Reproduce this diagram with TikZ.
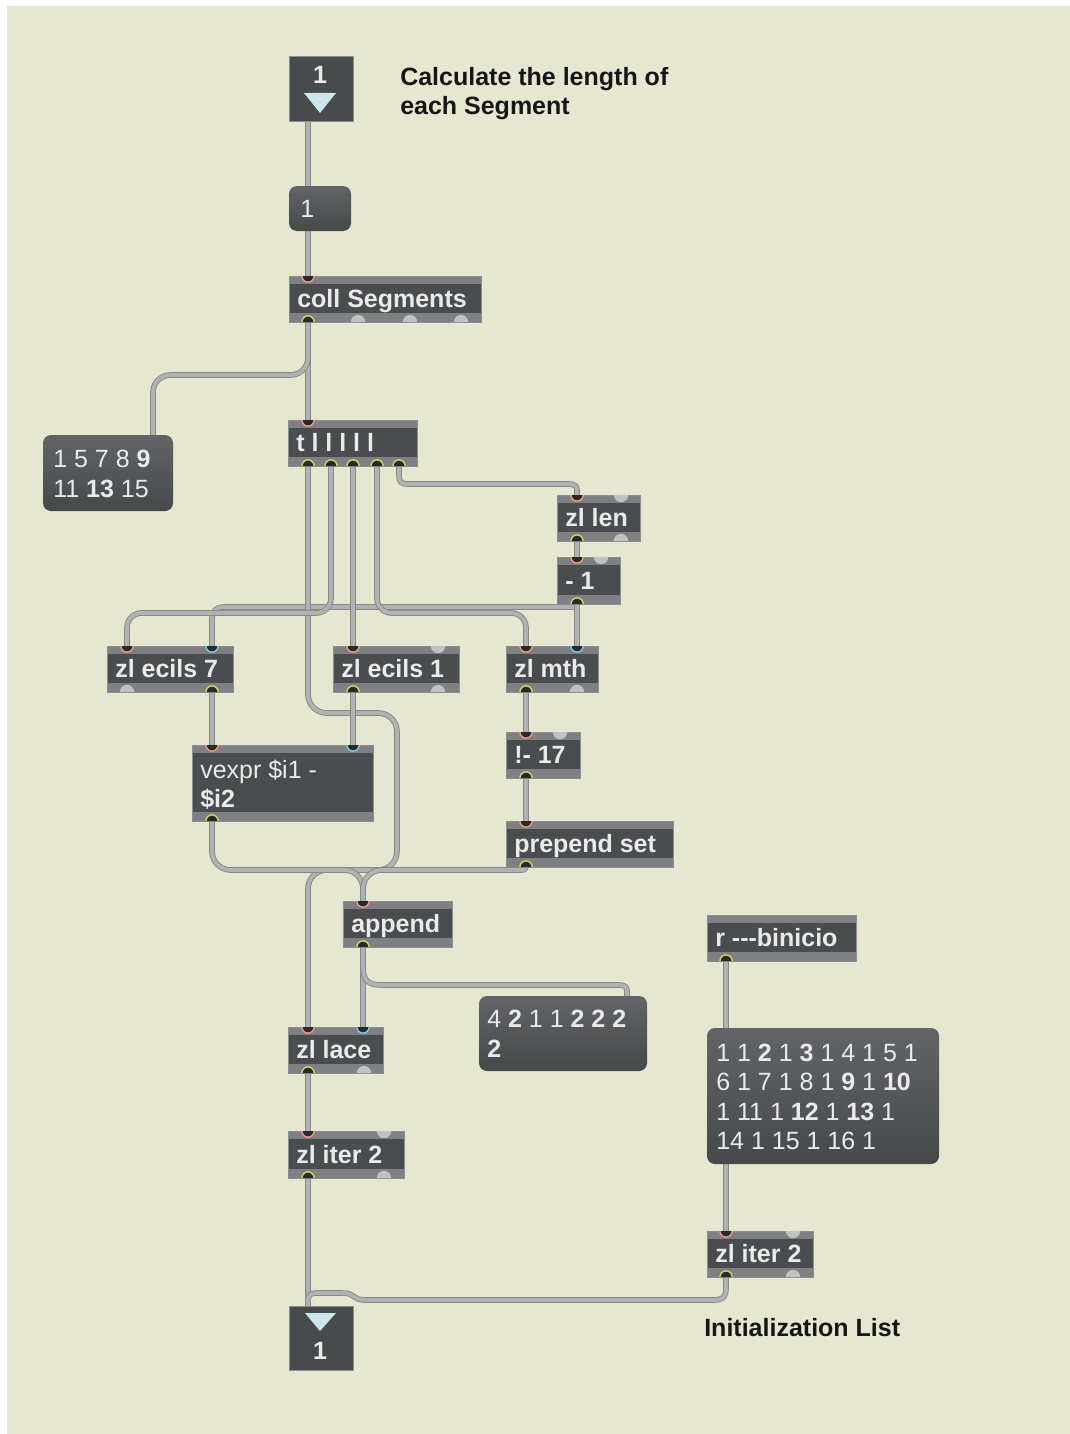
\documentclass[tikz,border=0pt]{standalone}
\usepackage{fontspec}
\setmainfont{Liberation Sans}
\usetikzlibrary{fit}

\pgfdeclarelayer{back}
\pgfdeclarelayer{cords}
\pgfsetlayers{back,cords,main}

\definecolor{patchbg}{RGB}{229,231,208}
\definecolor{objbody}{RGB}{74,77,77}
\definecolor{objstrip}{RGB}{126,128,132}
\definecolor{objedge}{RGB}{140,142,146}
\definecolor{objtext}{RGB}{234,234,234}
\definecolor{msgtop}{RGB}{98,100,102}
\definecolor{msgbot}{RGB}{70,73,74}
\definecolor{numbody}{RGB}{72,75,75}
\definecolor{cordedge}{RGB}{136,136,136}
\definecolor{cordfill}{RGB}{178,178,178}
\definecolor{hotc}{RGB}{236,150,132}
\definecolor{coldc}{RGB}{120,200,226}
\definecolor{outc}{RGB}{206,208,96}
\definecolor{portdark}{RGB}{40,42,42}
\definecolor{unusedc}{RGB}{192,193,196}
\definecolor{tric}{RGB}{205,230,236}
\definecolor{notec}{RGB}{22,22,22}

% object box: name, left, top, right, bottom, text
\newcommand\maxobj[6]{%
  \node[inner sep=0pt, fit={(#2,#3) (#4,#5)}] (#1) {};
  \fill[objbody] (#2,#3) rectangle (#4,#5);
  \fill[objstrip] (#2,#3) rectangle (#4,#3+8);
  \fill[objstrip] (#2,#5-9) rectangle (#4,#5);
  \draw[objedge, line width=0.5pt] (#2,#3) rectangle (#4,#5);
  \node[objtxt] (#1-txt) at ({#2+8},{(#3+#5)/2+8.5}) {#6};
}
% message box: name, left, top, right, bottom
\newcommand\msgbox[5]{%
  \node[inner sep=0pt, fit={(#2,#3) (#4,#5)}] (#1) {};
  \shade[top color=msgtop, bottom color=msgbot, rounded corners=6pt] (#2,#3) rectangle (#4,#5);
}
% live inlet: name, x, y, colour
\newcommand\inport[4]{%
  \coordinate (#1) at (#2,#3);
  \fill[portdark] (#2-6.1,#3) arc[start angle=180,end angle=360,radius=4.6pt] -- cycle;
  \draw[#4, line width=1.1pt] (#2-6.1,#3) arc[start angle=180,end angle=360,radius=4.6pt];
}
% live outlet: name, x, y
\newcommand\outport[3]{%
  \coordinate (#1) at (#2,#3);
  \fill[portdark] (#2-6.1,#3) arc[start angle=180,end angle=0,radius=4.6pt] -- cycle;
  \draw[outc, line width=1.1pt] (#2-6.1,#3) arc[start angle=180,end angle=0,radius=4.6pt];
}
% unconnected inlet / outlet
\newcommand\deadin[2]{\fill[unusedc] (#1-7.2,#2) arc[start angle=180,end angle=360,radius=5.4pt] -- cycle;}
\newcommand\deadout[2]{\fill[unusedc] (#1-7.2,#2) arc[start angle=180,end angle=0,radius=5.4pt] -- cycle;}

\begin{document}
\begin{tikzpicture}[x=0.75pt, y=-0.75pt,
  objtxt/.style={text=objtext, font=\bfseries\fontsize{18.75}{22}\selectfont, inner sep=0pt, anchor=base west},
  msgtxt/.style={text=objtext, font=\fontsize{18.75}{22}\selectfont, inner sep=0pt, anchor=base west},
  numtxt/.style={text=objtext, font=\bfseries\fontsize{18.75}{22}\selectfont, inner sep=0pt, anchor=base},
  note/.style={text=notec, font=\bfseries\fontsize{18.75}{22}\selectfont, inner sep=0pt, anchor=base west},
  cord/.style={draw=cordedge, line width=0.7pt, double=cordfill, double distance=2.8pt, line join=round}]

\useasboundingbox (0,0) rectangle (1070,1434);
\begin{pgfonlayer}{back}
  \fill[white] (0,0) rectangle (1070,1434);
  \fill[patchbg] (7,6) rectangle (1070,1434);
\end{pgfonlayer}

% ---------- comments ----------
\node[note] (noteA1) at (400,86) {Calculate the length of};
\node[note] (noteA2) at (400,115) {each Segment};
\node[note] (noteB) at (704,1336) {Initialization List};

% ---------- number boxes ----------
\node[inner sep=0pt, fit={(289,56) (353,121)}] (numT) {};
\filldraw[fill=numbody, draw=objedge, line width=0.5pt] (289,56) rectangle (353,121);
\node[numtxt] (numT-txt) at (320,84) {1};
\fill[tric] (304,93) -- (336,93) -- (320,113) -- cycle;
\coordinate (numT-out) at (308,121);

\node[inner sep=0pt, fit={(289,1306) (353,1370)}] (numB) {};
\filldraw[fill=numbody, draw=objedge, line width=0.5pt] (289,1306) rectangle (353,1370);
\fill[tric] (305,1313) -- (336,1313) -- (320,1331) -- cycle;
\node[numtxt] (numB-txt) at (320,1359) {1};
\coordinate (numB-in) at (308,1306);

% ---------- message boxes ----------
\msgbox{msg1}{289}{186}{351}{231}
\node[msgtxt] (msg1-txt) at (300,217) {1};
\coordinate (msg1-in) at (308,186);
\coordinate (msg1-out) at (308,231);

\msgbox{msgA}{43}{435}{173}{511}
\node[msgtxt] (msgA-1) at (53,467) {1 5 7 8 \textbf{9}};
\node[msgtxt] (msgA-2) at (53,497) {11 \textbf{13} 15};
\coordinate (msgA-in) at (153,435);

\msgbox{msgB}{479}{996}{647}{1071}
\node[msgtxt] (msgB-1) at (487,1027) {4 \textbf{2} 1 1 \textbf{2 2 2}};
\node[msgtxt] (msgB-2) at (487,1057) {\textbf{2}};
\coordinate (msgB-in) at (627,996);

\msgbox{msgC}{707}{1028}{939}{1164}
\node[msgtxt] (msgC-1) at (716,1061) {1 1 \textbf{2} 1 \textbf{3} 1 4 1 5 1};
\node[msgtxt] (msgC-2) at (716,1090) {6 1 7 1 8 1 \textbf{9} 1 \textbf{10}};
\node[msgtxt] (msgC-3) at (716,1120) {1 11 1 \textbf{12} 1 \textbf{13} 1};
\node[msgtxt] (msgC-4) at (716,1149) {14 1 15 1 16 1};
\coordinate (msgC-in) at (726,1028);
\coordinate (msgC-out) at (726,1164);

% ---------- objects ----------
\maxobj{coll}{289}{276}{481}{322}{coll Segments}
\inport{coll-i0}{308}{276}{hotc}
\outport{coll-o0}{308}{322}
\deadout{358}{322}\deadout{410}{322}\deadout{461}{322}

\maxobj{trig}{288}{420}{417}{466}{t l l l l l}
\inport{trig-i0}{308}{420}{hotc}
\outport{trig-o0}{308}{466}
\outport{trig-o1}{331}{466}
\outport{trig-o2}{353}{466}
\outport{trig-o3}{377}{466}
\outport{trig-o4}{399}{466}

\maxobj{zllen}{557}{495}{640}{541}{zl len}
\inport{zllen-i0}{577}{495}{hotc}
\deadin{621}{495}
\outport{zllen-o0}{577}{541}
\deadout{621}{541}

\maxobj{minus}{557}{557}{620}{604}{- 1}
\inport{minus-i0}{577}{557}{hotc}
\deadin{601}{557}
\outport{minus-o0}{577}{604}

\maxobj{ecilsA}{107}{646}{233}{692}{zl ecils 7}
\inport{ecilsA-i0}{127}{646}{hotc}
\inport{ecilsA-i1}{212}{646}{coldc}
\deadout{127}{692}
\outport{ecilsA-o1}{212}{692}

\maxobj{ecilsB}{333}{646}{459}{692}{zl ecils 1}
\inport{ecilsB-i0}{353}{646}{hotc}
\deadin{438}{646}
\outport{ecilsB-o0}{353}{692}
\deadout{438}{692}

\maxobj{mth}{506}{646}{598}{692}{zl mth}
\inport{mth-i0}{526}{646}{hotc}
\inport{mth-i1}{577}{646}{coldc}
\outport{mth-o0}{526}{692}
\deadout{577}{692}

\maxobj{rminus}{506}{732}{580}{778}{!- 17}
\inport{rminus-i0}{526}{732}{hotc}
\deadin{560}{732}
\outport{rminus-o0}{526}{778}

\maxobj{vexpr}{192}{745}{373}{821}{}
\node[msgtxt] (vexpr-1) at (200,778) {vexpr \$i1 -};
\node[objtxt] (vexpr-2) at (200,807) {\$i2};
\inport{vexpr-i0}{212}{745}{hotc}
\inport{vexpr-i1}{353}{745}{coldc}
\outport{vexpr-o0}{212}{821}

\maxobj{prepend}{506}{821}{673}{867}{prepend set}
\inport{prepend-i0}{526}{821}{hotc}
\outport{prepend-o0}{526}{867}

\maxobj{append}{343}{901}{452}{947}{append}
\inport{append-i0}{363}{901}{hotc}
\outport{append-o0}{363}{947}

\maxobj{lace}{288}{1027}{383}{1073}{zl lace}
\inport{lace-i0}{308}{1027}{hotc}
\inport{lace-i1}{363}{1027}{coldc}
\outport{lace-o0}{308}{1073}
\deadout{364}{1073}

\maxobj{rcv}{707}{915}{856}{961}{r {-}{-}{-}binicio}
\outport{rcv-o0}{726}{961}

\maxobj{iterL}{288}{1131}{404}{1178}{zl iter 2}
\inport{iterL-i0}{308}{1131}{hotc}
\deadin{384}{1131}
\outport{iterL-o0}{308}{1178}
\deadout{384}{1178}

\maxobj{iterR}{707}{1231}{813}{1277}{zl iter 2}
\inport{iterR-i0}{726}{1231}{hotc}
\deadin{793}{1231}
\outport{iterR-o0}{726}{1277}
\deadout{793}{1277}

% ---------- patch cords ----------
\begin{pgfonlayer}{cords}
\draw[cord] (numT-out) -- (msg1-in);
\draw[cord] (msg1-out) -- (coll-i0);
\draw[cord] (coll-o0) -- (trig-i0);
\draw[cord, rounded corners=13pt] (coll-o0) -- (308,375) -- (153,375) -- (msgA-in);

\draw[cord] (trig-o4) -- (399,475) .. controls (399,482) and (401,484) .. (408,484)
  -- (568,484) .. controls (575,484) and (577,486) .. (577,490) -- (zllen-i0);
\draw[cord] (zllen-o0) -- (minus-i0);
\draw[cord] (minus-o0) .. controls (577,607) and (575,607) .. (570,607)
  [rounded corners=8pt] -- (212,607) -- (ecilsA-i1);
\draw[cord] (minus-o0) -- (mth-i1);

\draw[cord, rounded corners=14pt] (trig-o0) -- (308,713) -- (397,713) -- (397,870) -- (308,870) -- (lace-i0);
\draw[cord, rounded corners=11pt] (trig-o1) -- (331,613) -- (127,613) -- (ecilsA-i0);
\draw[cord] (trig-o2) -- (ecilsB-i0);
\draw[cord, rounded corners=11pt] (trig-o3) -- (377,613) -- (526,613) -- (mth-i0);

\draw[cord] (ecilsA-o1) -- (vexpr-i0);
\draw[cord] (ecilsB-o0) -- (vexpr-i1);
\draw[cord] (mth-o0) -- (rminus-i0);
\draw[cord] (rminus-o0) -- (prepend-i0);

\draw[cord, rounded corners=14pt] (vexpr-o0) -- (212,870) -- (363,870) -- (append-i0);
\draw[cord] (prepend-o0) .. controls (526,870) and (524,870) .. (519,870)
  [rounded corners=14pt] -- (363,870) -- (append-i0);

\draw[cord] (append-o0) -- (lace-i1);
\draw[cord] (append-o0) -- (363,967) .. controls (363,980) and (368,985) .. (381,985)
  -- (619,985) .. controls (625,985) and (627,987) .. (627,991) -- (msgB-in);

\draw[cord] (lace-o0) -- (iterL-i0);
\draw[cord] (iterL-o0) -- (numB-in);
\draw[cord] (rcv-o0) -- (msgC-in);
\draw[cord] (msgC-out) -- (iterR-i0);
\draw[cord] (iterR-o0) -- (726,1288) .. controls (726,1297) and (723,1300) .. (714,1300)
  -- (365,1300) .. controls (352,1300) and (356,1293) .. (342,1293)
  -- (316,1293) .. controls (310,1293) and (308,1296) .. (308,1300) -- (numB-in);
\end{pgfonlayer}
\end{tikzpicture}
\end{document}
